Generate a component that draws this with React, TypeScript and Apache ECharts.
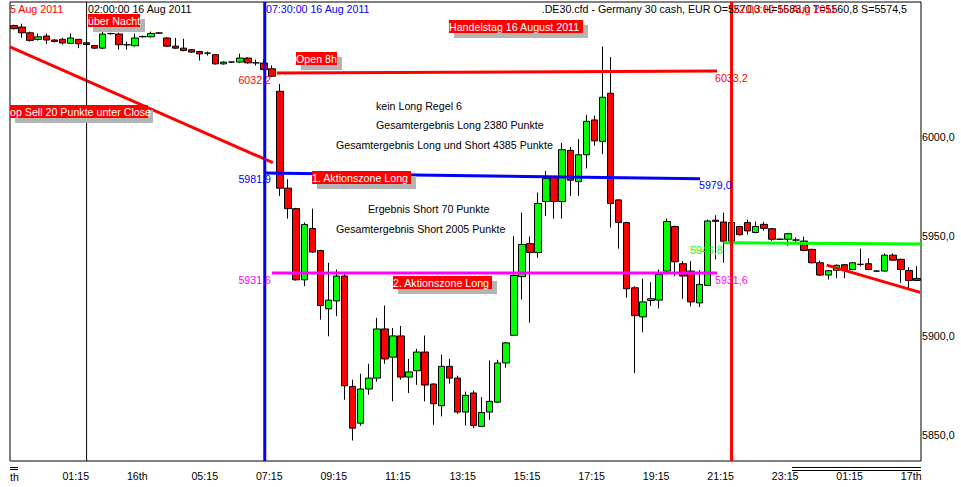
import React, { useEffect, useRef } from 'react';
import * as echarts from 'echarts';

// ---- data (15-minute candles, .DE30.cfd, 15/16/17 Aug 2011) ----
const opens = [
  6056.0, 6055.3, 6052.4, 6049.1, 6050.8, 6048.8, 6049.1, 6047.1, 6049.1, 6047.4,
  6046.0, 6044.7, 6052.0, 6051.8, 6046.4, 6045.9, 6050.6, 6050.4, 6052.3, 6049.8,
  6045.7, 6044.7, 6043.9, 6043.0, 6042.2, 6041.4, 6036.8, 6037.7, 6037.7, 6039.7,
  6037.3, 6037.2, 6034.3, 6023.0, 5974.3, 5964.0, 5928.2, 5954.0, 5942.9, 5913.6,
  5917.6, 5930.1, 5874.6, 5856.1, 5873.3, 5878.8, 5903.5, 5889.3, 5900.0, 5879.3,
  5882.5, 5891.9, 5875.8, 5864.9, 5884.7, 5878.8, 5861.7, 5871.3, 5854.5, 5861.7,
  5866.7, 5886.4, 5900.3, 5929.8, 5946.4, 5941.9, 5967.6, 5979.7, 5967.6, 5993.3,
  5977.6, 5991.1, 6008.6, 5997.8, 6022.0, 5968.4, 5957.0, 5924.2, 5909.6, 5917.8,
  5918.0, 5932.6, 5955.0, 5936.3, 5932.6, 5916.6, 5925.4, 5958.2, 5957.3, 5947.6,
  5955.0, 5957.0, 5952.0, 5956.1, 5953.9, 5948.6, 5948.6, 5948.2, 5947.7, 5943.5,
  5936.8, 5930.6, 5933.0, 5935.8, 5933.4, 5936.0, 5936.3, 5932.6, 5932.6, 5940.6,
  5938.5, 5932.9, 5928.9,
];
const closes = [
  6054.5, 6052.4, 6048.6, 6050.4, 6048.8, 6048.1, 6047.3, 6049.8, 6046.9, 6046.5,
  6044.7, 6051.8, 6052.0, 6046.4, 6046.4, 6049.8, 6050.4, 6052.1, 6052.3, 6045.7,
  6044.7, 6043.5, 6042.7, 6041.8, 6042.2, 6036.8, 6037.7, 6037.7, 6039.7, 6037.3,
  6037.3, 6033.9, 6030.6, 5974.3, 5964.0, 5928.2, 5956.0, 5942.2, 5915.3, 5918.0,
  5930.1, 5874.9, 5853.6, 5873.3, 5878.8, 5903.5, 5888.4, 5900.0, 5879.3, 5881.9,
  5891.9, 5875.3, 5865.9, 5884.7, 5878.8, 5861.7, 5870.1, 5855.0, 5861.5, 5867.1,
  5886.4, 5896.5, 5930.4, 5946.0, 5941.9, 5966.6, 5979.2, 5967.6, 5993.6, 5978.3,
  5991.1, 6007.9, 5998.1, 6020.0, 5966.6, 5957.0, 5923.7, 5910.2, 5917.1, 5918.7,
  5930.9, 5957.5, 5937.3, 5930.1, 5917.1, 5925.9, 5957.8, 5957.6, 5947.6, 5957.0,
  5950.9, 5952.8, 5955.0, 5954.1, 5948.6, 5948.6, 5951.4, 5948.2, 5943.0, 5936.8,
  5930.6, 5932.8, 5935.5, 5933.1, 5936.8, 5936.0, 5933.4, 5932.6, 5940.6, 5938.1,
  5933.4, 5927.9, 5927.9,
];
const lows = [
  6054.0, 6049.9, 6048.0, 6048.5, 6046.8, 6047.5, 6046.5, 6046.8, 6044.7, 6046.0,
  6044.2, 6044.2, 6051.5, 6043.9, 6043.9, 6045.5, 6050.0, 6050.0, 6051.8, 6045.3,
  6044.3, 6043.1, 6042.3, 6038.5, 6041.0, 6036.4, 6036.4, 6037.3, 6037.3, 6036.9,
  6036.0, 6033.5, 6030.2, 5970.4, 5959.0, 5927.8, 5925.0, 5941.8, 5908.2, 5899.8,
  5909.9, 5867.9, 5847.4, 5854.8, 5870.4, 5877.0, 5886.0, 5867.1, 5878.0, 5871.3,
  5875.4, 5867.1, 5855.3, 5859.5, 5876.0, 5860.8, 5855.0, 5853.6, 5854.1, 5857.8,
  5866.3, 5884.0, 5899.9, 5918.3, 5906.6, 5939.3, 5960.3, 5958.9, 5959.0, 5970.4,
  5970.4, 5984.2, 5995.6, 5991.4, 5954.5, 5943.9, 5919.2, 5881.3, 5901.8, 5915.0,
  5913.8, 5931.0, 5930.0, 5918.7, 5914.9, 5914.5, 5925.0, 5938.5, 5936.8, 5947.2,
  5950.5, 5951.0, 5951.6, 5953.0, 5947.8, 5948.2, 5945.4, 5947.0, 5942.6, 5936.4,
  5930.2, 5928.4, 5929.0, 5929.0, 5933.0, 5935.0, 5933.0, 5932.2, 5932.2, 5937.7,
  5926.7, 5924.0, 5927.5,
];
const highs = [
  6056.5, 6057.0, 6053.0, 6052.1, 6052.0, 6049.2, 6050.0, 6052.1, 6049.5, 6047.8,
  6046.4, 6053.5, 6052.5, 6052.5, 6048.0, 6052.0, 6051.0, 6053.0, 6052.8, 6050.2,
  6049.8, 6049.4, 6044.3, 6043.4, 6043.0, 6041.8, 6038.1, 6038.1, 6041.9, 6040.1,
  6039.0, 6039.0, 6036.0, 6026.7, 5978.8, 5964.4, 5957.0, 5964.0, 5943.3, 5936.8,
  5933.4, 5931.0, 5878.0, 5881.0, 5886.0, 5909.1, 5915.3, 5904.0, 5905.0, 5888.4,
  5893.5, 5900.2, 5876.2, 5890.6, 5888.4, 5880.0, 5872.0, 5872.5, 5869.2, 5887.7,
  5888.0, 5896.9, 5950.2, 5962.0, 5950.0, 5972.1, 5983.0, 5980.1, 5997.0, 5995.0,
  5999.0, 6011.1, 6010.8, 6045.5, 6040.2, 5968.8, 5957.4, 5925.0, 5928.8, 5927.0,
  5933.4, 5959.0, 5955.4, 5937.6, 5937.6, 5933.1, 5958.5, 5960.7, 5962.0, 5957.5,
  5955.4, 5958.5, 5957.5, 5957.3, 5954.3, 5949.0, 5951.8, 5949.5, 5949.9, 5943.9,
  5937.8, 5933.2, 5935.9, 5936.2, 5937.2, 5943.9, 5939.0, 5933.0, 5941.5, 5941.5,
  5938.9, 5934.5, 5935.1,
];

// time-axis tick labels (bar index -> text)
const tickIndex = [6, 14, 22, 30, 38, 46, 54, 62, 70, 78, 86, 94, 102, 110];
const tickText = ['01:15', '16th', '05:15', '07:15', '09:15', '11:15', '13:15', '15:15', '17:15', '19:15', '21:15', '23:15', '01:15', '17th'];

// price-axis ticks
const priceTicks = [5850, 5900, 5950, 6000];
const Y_MIN = 5837.1;
const Y_MAX = 6067.9;

// annotation lines: [barPosition, price] endpoints
const trendSellLine = [[-0.5, 6045.3], [32.1, 5987.1]];
const open8hLine = [[32.6, 6032.2], [87.2, 6033.2]];
const zone1Line = [[31.1, 5981.9], [85.1, 5979.0]];
const zone2Line = [[32.0, 5931.6], [87.2, 5931.6]];
const nightLine = [[88.0, 5946.8], [112.5, 5946.2]];
const lateTrendLine = [[100.8, 5935.6], [112.4, 5921.9]];
// vertical time markers (bar index)
const markerNight = 9; // 02:00:00 16 Aug 2011
const markerOpen = 31.1; // 07:30:00 16 Aug 2011
const markerClose = 89; // 22:00:00 16 Aug 2011

const FONT = 'Liberation Sans, Arial, sans-serif';
const FS = 10.67;

const cats = opens.map((_, i) => String(i));
const candleData = opens.map((o, i) => [o, closes[i], lows[i], highs[i]]);

function lineSeries(data: number[][], color: string, width: number, z = 5) {
  return {
    type: 'line',
    xAxisIndex: 1,
    yAxisIndex: 0,
    data,
    symbol: 'none',
    silent: true,
    clip: true,
    z,
    lineStyle: { color, width, cap: 'butt' },
  };
}

function vLine(pos: number, color: string, width: number) {
  return lineSeries([[pos, Y_MIN], [pos, Y_MAX]], color, width, 6);
}

function txt(text: string, x: number, y: number, fill: string, align = 'left') {
  return {
    type: 'text',
    x,
    y,
    z: 100,
    silent: true,
    style: { text, fill, fontSize: FS, fontFamily: FONT, verticalAlign: 'middle', align },
  };
}

function redLabel(text: string, x: number, y: number, w: number) {
  const h = 13;
  return {
    type: 'group',
    z: 90,
    silent: true,
    children: [
      { type: 'rect', shape: { x: x + 5, y: y + 5, width: w, height: h }, style: { fill: '#b4b4b4' }, z: 90 },
      { type: 'rect', shape: { x, y, width: w, height: h }, style: { fill: '#ff0000' }, z: 91 },
      {
        type: 'text', x, y: y + h / 2 + 0.5, z: 92,
        style: { text, fill: '#ffffff', fontSize: FS, fontFamily: FONT, verticalAlign: 'middle', align: 'left' },
      },
    ],
  };
}

export default function App() {
  const ref = useRef<HTMLDivElement>(null);
  useEffect(() => {
    if (!ref.current) return;
    const chart = echarts.init(ref.current, undefined, { renderer: 'svg' });
    const tickMap: Record<number, string> = {};
    tickIndex.forEach((idx, k) => { tickMap[idx] = tickText[k]; });

    chart.setOption({
      animation: false,
      backgroundColor: '#ffffff',
      grid: { left: 10, top: 2, width: 911, height: 459, show: true, borderColor: '#000', borderWidth: 1, backgroundColor: '#fff' },
      xAxis: [
        {
          type: 'category',
          data: cats,
          boundaryGap: true,
          axisLine: { show: false },
          axisTick: { show: false },
          splitLine: { show: false },
          axisLabel: {
            interval: (index: number) => tickMap[index] !== undefined,
            formatter: (_v: string, index: number) => tickMap[index] ?? '',
            align: 'left',
            margin: 9,
            color: '#000',
            fontSize: FS,
            fontFamily: FONT,
          },
        },
        { type: 'value', min: -0.5, max: 112.5, show: false },
      ],
      yAxis: {
        type: 'value',
        position: 'right',
        min: Y_MIN,
        max: Y_MAX,
        scale: true,
        splitLine: { show: false },
        axisLine: { show: false },
        axisTick: { show: false },
        axisLabel: {
          customValues: priceTicks,
          formatter: (v: number) => v.toFixed(1).replace('.', ','),
          margin: 1,
          color: '#000',
          fontSize: FS,
          fontFamily: FONT,
        },
      },
      series: [
        {
          type: 'candlestick',
          xAxisIndex: 0,
          yAxisIndex: 0,
          data: candleData,
          barWidth: 7,
          z: 2,
          silent: true,
          itemStyle: {
            color: '#00ff00',
            color0: '#ff0000',
            borderColor: '#000000',
            borderColor0: '#000000',
            borderColorDoji: '#000000',
            borderWidth: 1,
          },
        },
        lineSeries(trendSellLine, '#ff0000', 3),
        lineSeries(open8hLine, '#ff0000', 3),
        lineSeries(zone1Line, '#0000ff', 3),
        lineSeries(zone2Line, '#ff00ff', 3),
        lineSeries(nightLine, '#00ff00', 3),
        lineSeries(lateTrendLine, '#ff0000', 3),
        vLine(markerNight, '#000000', 1),
        vLine(markerOpen, '#0000ff', 3),
        vLine(markerClose, '#ff0000', 3),
      ],
      graphic: [
        // top captions
        txt('5 Aug 2011', 10, 8.5, '#ff0000'),
        txt('02:00:00 16 Aug 2011', 88, 8.5, '#000000'),
        txt('07:30:00 16 Aug 2011', 266, 8.5, '#0000ff'),
        txt('.DE30.cfd - Germany 30 cash, EUR O=5570,3 H=5583,0 T=5560,8 S=5574,5', 907, 8.5, '#000000', 'right'),
        txt('22:00:00 16 Aug 2011', 733, 8.5, '#ff0000'),
        // red labels
        redLabel('über Nacht', 88, 14, 52),
        redLabel('Open 8h', 296, 52, 41),
        redLabel('Handelstag 16 August 2011', 449, 20, 134),
        redLabel('op Sell 20 Punkte unter Close', 10, 105, 138),
        redLabel('1. Aktionszone Long', 312, 171, 99),
        redLabel('2. Aktionszone Long', 393, 276, 99),
        // notes
        txt('kein Long Regel 6', 376, 106, '#000000'),
        txt('Gesamtergebnis Long 2380 Punkte', 376, 125, '#000000'),
        txt('Gesamtergebnis Long und Short 4385 Punkte', 336, 145, '#000000'),
        txt('Ergebnis Short 70 Punkte', 368, 209, '#000000'),
        txt('Gesamtergebnis Short 2005 Punkte', 336, 229, '#000000'),
        // price labels
        txt('6032,2', 271, 80, '#ff0000', 'right'),
        txt('6033,2', 715, 78, '#ff0000'),
        txt('5981,9', 271, 179, '#0000ff', 'right'),
        txt('5979,0', 699, 185, '#0000ff'),
        txt('5931,6', 271, 280, '#ff00ff', 'right'),
        txt('5931,6', 715, 280, '#ff00ff'),
        txt('5946,8', 690, 249.5, '#00ff00'),
        // bottom separators and clipped label
        txt('th', 10, 477, '#000000'),
        { type: 'line', silent: true, shape: { x1: 10, y1: 467.5, x2: 18, y2: 467.5 }, style: { stroke: '#000', lineWidth: 1 } },
        { type: 'line', silent: true, shape: { x1: 10, y1: 469.5, x2: 18, y2: 469.5 }, style: { stroke: '#000', lineWidth: 1 } },
        { type: 'line', silent: true, shape: { x1: 792, y1: 467.5, x2: 921, y2: 467.5 }, style: { stroke: '#000', lineWidth: 1 } },
        { type: 'line', silent: true, shape: { x1: 792, y1: 470.5, x2: 921, y2: 470.5 }, style: { stroke: '#000', lineWidth: 1 } },
      ],
    });
    return () => chart.dispose();
  }, []);

  return (
    <div
      ref={ref}
      style={{ position: 'absolute', left: 0, top: 0, width: 961, height: 487, background: '#fff' }}
    />
  );
}
